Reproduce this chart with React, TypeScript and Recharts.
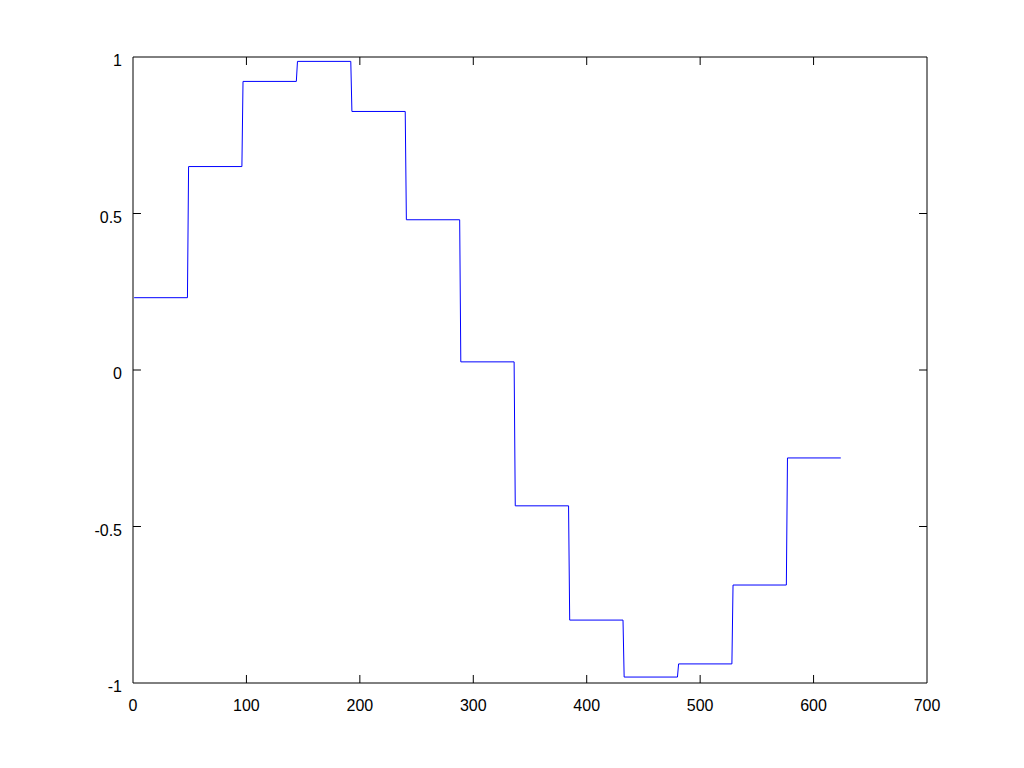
import { LineChart, Line, XAxis, YAxis, ReferenceLine } from "recharts";

// held sample values, one per block of 48 samples (samples numbered from 1)
const blockValues = [
  0.231, 0.65, 0.922, 0.986, 0.826, 0.48, 0.026, -0.434, -0.799, -0.981, -0.939,
  -0.687, -0.281,
];
const blockLength = 48;
const lastSample = 624;

const xTicks = [0, 100, 200, 300, 400, 500, 600, 700];
const yTicks = [-1, -0.5, 0, 0.5, 1];

const data: { x: number; y: number }[] = [];
blockValues.forEach((v, i) => {
  const start = i * blockLength + 1;
  const end = Math.min(start + blockLength - 1, lastSample);
  data.push({ x: start, y: v });
  data.push({ x: end, y: v });
});

// inward tick lengths in data units (~8px)
const xTickLen = 7;
const yTickLen = 0.0256;

const font = "Liberation Sans, Arial, sans-serif";

const XTick = (props: any) => {
  const { x, y, payload } = props;
  return (
    <text x={x} y={y} dy={14} textAnchor="middle" fill="#000" fontSize={16} fontFamily={font}>
      {payload.value}
    </text>
  );
};

const YTick = (props: any) => {
  const { x, y, payload } = props;
  return (
    <text x={x} y={y} dy={9} textAnchor="end" fill="#000" fontSize={16} fontFamily={font}>
      {payload.value}
    </text>
  );
};

export default function App() {
  return (
    <div style={{ position: "fixed", left: 0, top: 0, width: 1024, height: 768, background: "#fff" }}>
      <LineChart
        width={1024}
        height={768}
        data={data}
        margin={{ top: 57, right: 97, bottom: 0, left: 0 }}
      >
        <XAxis
          type="number"
          dataKey="x"
          domain={[0, 700]}
          ticks={xTicks}
          interval={0}
          height={85}
          tick={<XTick />}
          tickLine={false}
          tickSize={0}
          tickMargin={14}
          axisLine={{ stroke: "#000" }}
          allowDataOverflow
        />
        <YAxis
          type="number"
          domain={[-1, 1]}
          ticks={yTicks}
          interval={0}
          width={133}
          tick={<YTick />}
          tickLine={false}
          tickSize={0}
          tickMargin={11}
          axisLine={{ stroke: "#000" }}
          allowDataOverflow
        />
        <ReferenceLine y={1} stroke="#000" />
        <ReferenceLine x={700} stroke="#000" />
        {xTicks.slice(1, -1).map((t) => (
          <ReferenceLine
            key={"xb" + t}
            segment={[{ x: t, y: -1 }, { x: t, y: -1 + yTickLen }]}
            stroke="#000"
          />
        ))}
        {xTicks.slice(1, -1).map((t) => (
          <ReferenceLine
            key={"xt" + t}
            segment={[{ x: t, y: 1 }, { x: t, y: 1 - yTickLen }]}
            stroke="#000"
          />
        ))}
        {yTicks.slice(1, -1).map((t) => (
          <ReferenceLine
            key={"yl" + t}
            segment={[{ x: 0, y: t }, { x: xTickLen, y: t }]}
            stroke="#000"
          />
        ))}
        {yTicks.slice(1, -1).map((t) => (
          <ReferenceLine
            key={"yr" + t}
            segment={[{ x: 700, y: t }, { x: 700 - xTickLen, y: t }]}
            stroke="#000"
          />
        ))}
        <Line
          type="linear"
          dataKey="y"
          stroke="#0000ff"
          strokeWidth={1}
          dot={false}
          isAnimationActive={false}
        />
      </LineChart>
    </div>
  );
}
